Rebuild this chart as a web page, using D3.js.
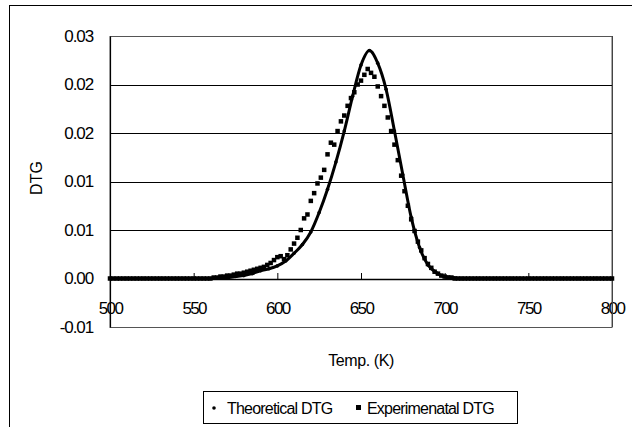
<!DOCTYPE html>
<html>
<head>
<meta charset="utf-8">
<script src="https://cdn.jsdelivr.net/npm/d3@7"></script>
<style>
  html, body { margin: 0; padding: 0; background: #fff; }
  svg { display: block; font-family: "Liberation Sans", Arial, sans-serif; }
</style>
</head>
<body>
<div id="chart"></div>
<script>
// Theoretical DTG, read every 5 K
const theoTemp = [500, 505, 510, 515, 520, 525, 530, 535, 540, 545, 550, 555, 560, 565, 570, 575,
  580, 585, 590, 595, 600, 605, 610, 615, 620, 625, 630, 635, 640, 645, 650, 655, 660, 665,
  670, 675, 680, 685, 690, 695, 700, 705, 710, 715, 720, 725, 730, 735, 740, 745, 750, 755,
  760, 765, 770, 775, 780, 785, 790, 795, 800];
const theoDtg = [0, 0, 0, 0, 0, 0, 0, 0, 0, 0, 0, 0, 0, 0.0001, 0.0001, 0.0002,
  0.0003, 0.0005, 0.0008, 0.0010, 0.0013, 0.0018, 0.0026, 0.0035, 0.0048, 0.0068, 0.0092, 0.0120,
  0.0152, 0.0188, 0.0220, 0.0235, 0.0222, 0.0195, 0.0152, 0.0107, 0.0063, 0.0032, 0.0014, 0.0006,
  0.0002, 0.0001, 0, 0, 0, 0, 0, 0, 0, 0, 0, 0, 0, 0, 0, 0, 0, 0, 0, 0, 0];

// Experimental DTG, read every 2 K (500 .. 800)
const expTemp = d3.range(500, 801, 2);
const expDtg = [
  // 500 - 558
  0, 0, 0, 0, 0, 0, 0, 0, 0, 0, 0, 0, 0, 0, 0, 0, 0, 0, 0, 0, 0, 0, 0, 0, 0, 0, 0, 0, 0, 0,
  // 560 - 598
  0.0000, 0.0001, 0.0001, 0.0002, 0.0002, 0.0003, 0.0003, 0.0004, 0.0005, 0.0005,
  0.0006, 0.0007, 0.0008, 0.0009, 0.0010, 0.0011, 0.0012, 0.0014, 0.0016, 0.0019,
  // 600 - 638
  0.0022, 0.0023, 0.0020, 0.0024, 0.0030, 0.0036, 0.0042, 0.0050, 0.0062, 0.0066,
  0.0080, 0.0088, 0.0098, 0.0104, 0.0112, 0.0128, 0.0140, 0.0138, 0.0152, 0.0162,
  // 640 - 678
  0.0168, 0.0178, 0.0186, 0.0192, 0.0200, 0.0204, 0.0210, 0.0216, 0.0212, 0.0208,
  0.0198, 0.0188, 0.0178, 0.0166, 0.0152, 0.0138, 0.0122, 0.0106, 0.0090, 0.0075,
  // 680 - 712
  0.0061, 0.0049, 0.0038, 0.0029, 0.0021, 0.0015, 0.0011, 0.0007, 0.0005, 0.0003,
  0.0002, 0.0001, 0.0001, 0, 0, 0, 0,
  // 714 - 800
  0, 0, 0, 0, 0, 0, 0, 0, 0, 0, 0, 0, 0, 0, 0, 0, 0, 0, 0, 0, 0, 0,
  0, 0, 0, 0, 0, 0, 0, 0, 0, 0, 0, 0, 0, 0, 0, 0, 0, 0, 0, 0, 0, 0
];

const xTicks = [500, 550, 600, 650, 700, 750, 800];
const yTicks = [-0.005, 0, 0.005, 0.01, 0.015, 0.02, 0.025];
const yTickLabels = ["-0.01", "0.00", "0.01", "0.01", "0.02", "0.02", "0.03"];
const seriesNames = ["Theoretical DTG", "Experimenatal DTG"];

const W = 632, H = 427;
const plot = { left: 110, right: 612, top: 36, bottom: 327 };
const FONT = "'Liberation Sans', Arial, sans-serif";

const svg = d3.select("#chart").append("svg")
  .attr("width", W).attr("height", H);

// outer chart border
svg.append("rect")
  .attr("x", 9.5).attr("y", 5.5)
  .attr("width", 700).attr("height", 500)
  .attr("fill", "none").attr("stroke", "#000").attr("stroke-width", 1);

const x = d3.scaleLinear().domain([500, 800]).range([plot.left, plot.right]);
const y = d3.scaleLinear().domain([-0.005, 0.025]).range([plot.bottom, plot.top]);

// plot area border
svg.append("rect")
  .attr("x", plot.left).attr("y", plot.top + 0.5)
  .attr("width", plot.right - plot.left).attr("height", plot.bottom - plot.top)
  .attr("fill", "none").attr("stroke", "#555").attr("stroke-width", 1);

// gridlines
svg.append("g")
  .selectAll("line")
  .data(yTicks.filter(d => d > 0 && d < 0.025))
  .join("line")
  .attr("x1", plot.left).attr("x2", plot.right)
  .attr("y1", d => Math.round(y(d)) + 0.5).attr("y2", d => Math.round(y(d)) + 0.5)
  .attr("stroke", "#000").attr("stroke-width", 1);

// y axis
const yAxis = svg.append("g")
  .attr("transform", `translate(${plot.left},0)`)
  .call(d3.axisLeft(y).tickValues(yTicks)
    .tickFormat((d, i) => yTickLabels[i])
    .tickSize(0).tickPadding(17));
yAxis.select(".domain").attr("stroke", "#000").attr("stroke-width", 1.2);
yAxis.selectAll("text")
  .attr("font-size", 17).attr("fill", "#000")
  .attr("font-family", FONT)
  .attr("letter-spacing", "-1.1");

// x axis at zero
const xAxis = svg.append("g")
  .attr("transform", `translate(0,${Math.round(y(0))})`)
  .call(d3.axisBottom(x).tickValues(xTicks)
    .tickSizeInner(-6).tickSizeOuter(0).tickPadding(23));
xAxis.select(".domain").attr("stroke", "#000").attr("stroke-width", 1.5);
xAxis.selectAll(".tick line").attr("stroke", "#000");
xAxis.selectAll("text")
  .attr("font-size", 17).attr("fill", "#000")
  .attr("font-family", FONT)
  .attr("letter-spacing", "-1.6");

// right border through 800
svg.append("line")
  .attr("x1", plot.right + 0.5).attr("x2", plot.right + 0.5)
  .attr("y1", plot.top).attr("y2", plot.bottom)
  .attr("stroke", "#444");

// theoretical series: dense small dots -> thick smooth curve
const theo = theoTemp.map((t, i) => ({ t: t, v: theoDtg[i] }));
svg.append("path")
  .datum(theo)
  .attr("fill", "none")
  .attr("stroke", "#000")
  .attr("stroke-width", 3)
  .attr("d", d3.line().x(d => x(d.t)).y(d => y(d.v)).curve(d3.curveMonotoneX));
svg.append("g")
  .selectAll("circle")
  .data(theo)
  .join("circle")
  .attr("cx", d => x(d.t)).attr("cy", d => y(d.v))
  .attr("r", 1.8).attr("fill", "#000");

// experimental series: small squares
const exp = expTemp.map((t, i) => ({ t: t, v: expDtg[i] }));
svg.append("g")
  .selectAll("rect")
  .data(exp)
  .join("rect")
  .attr("x", d => x(d.t) - 2.25).attr("y", d => y(d.v) - 2.25)
  .attr("width", 4.5).attr("height", 4.5)
  .attr("fill", "#000");

// axis titles
svg.append("text")
  .attr("x", 361).attr("y", 366)
  .attr("text-anchor", "middle")
  .attr("font-size", 16).attr("letter-spacing", "-0.4")
  .text("Temp. (K)");

svg.append("text")
  .attr("transform", "translate(42,178) rotate(-90)")
  .attr("text-anchor", "middle")
  .attr("font-size", 16)
  .text("DTG");

// legend
const legend = svg.append("g");
legend.append("rect")
  .attr("x", 203.5).attr("y", 391.5)
  .attr("width", 314).attr("height", 32)
  .attr("fill", "#fff").attr("stroke", "#000");
legend.append("circle")
  .attr("cx", 214).attr("cy", 408).attr("r", 1.8).attr("fill", "#000");
legend.append("text")
  .attr("x", 227).attr("y", 413.5)
  .attr("font-size", 16).attr("letter-spacing", "-0.8")
  .text(seriesNames[0]);
legend.append("rect")
  .attr("x", 356).attr("y", 405).attr("width", 5).attr("height", 5).attr("fill", "#000");
legend.append("text")
  .attr("x", 367).attr("y", 413.5)
  .attr("font-size", 16).attr("letter-spacing", "-0.8")
  .text(seriesNames[1]);
</script>
</body>
</html>
